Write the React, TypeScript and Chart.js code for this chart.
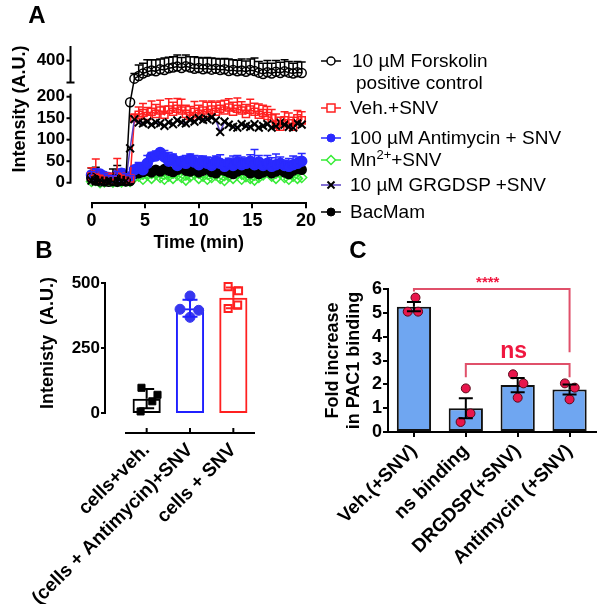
import React, { useEffect, useRef } from "react";
import { Chart, registerables } from "chart.js";

Chart.register(...registerables);

const FF = "'Liberation Sans', Arial, Helvetica, sans-serif";

// ---------------- Panel A data ----------------
const aTimesBase = [0, 0.4, 0.8, 1.2, 1.6, 2.0, 2.4, 2.8, 3.2, 3.6];
const aTimesRise = [
  4.0, 4.4, 4.8, 5.2, 5.6, 6.0, 6.4, 6.8, 7.2, 7.6,
  8.0, 8.4, 8.8, 9.2, 9.6, 10.0, 10.4, 10.8, 11.2, 11.6,
  12.0, 12.4, 12.8, 13.2, 13.6, 14.0, 14.4, 14.8, 15.2, 15.6,
  16.0, 16.4, 16.8, 17.2, 17.6, 18.0, 18.4, 18.8, 19.2, 19.6,
];

const aForskolinBase = [12, 6, 3, 5, 2, 4, 8, 5, 6, 187];
const aForskolinBaseErr = [22, 30, 8, 6, 5, 28, 32, 8, 8, 0];
const aForskolinRise = [
  358, 364, 370, 374, 377, 375, 380, 378, 382, 384,
  386, 383, 387, 384, 381, 383, 380, 382, 379, 381,
  378, 380, 376, 378, 375, 377, 374, 378, 376, 372,
  369, 373, 370, 374, 371, 375, 372, 370, 373, 371,
];
const aForskolinRiseErr = [
  12, 26, 24, 28, 25, 27, 24, 28, 26, 25,
  27, 24, 26, 25, 28, 24, 26, 25, 27, 24,
  26, 25, 28, 24, 26, 27, 25, 26, 30, 26,
  25, 27, 24, 26, 25, 27, 26, 24, 25, 26,
];

const aVehBase = [15, 20, 10, 8, 12, 5, 18, 10, 8, 10];
const aVehBaseErr = [20, 35, 10, 8, 10, 10, 38, 12, 10, 6];
const aVehRise = [
  150, 158, 162, 155, 165, 160, 168, 158, 170, 165,
  172, 168, 160, 155, 165, 160, 168, 162, 170, 165,
  172, 168, 175, 165, 172, 168, 160, 170, 165, 158,
  162, 155, 150, 135, 130, 145, 138, 130, 150, 145,
];
const aVehRiseErr = [
  10, 18, 22, 20, 25, 22, 24, 20, 25, 22,
  24, 26, 20, 22, 24, 20, 22, 25, 20, 22,
  18, 24, 20, 22, 25, 20, 22, 24, 20, 25,
  18, 22, 20, 25, 22, 20, 24, 22, 18, 20,
];

const aAntBase = [18, 22, 20, 15, 12, 10, 18, 22, 15, 12];
const aAntBaseErr = [8, 10, 8, 6, 5, 6, 8, 10, 6, 5];
const aAntRise = [
  30, 35, 30, 45, 60, 62, 70, 60, 50, 55,
  40, 50, 45, 55, 48, 42, 50, 45, 40, 50,
  45, 38, 45, 40, 48, 42, 45, 50, 42, 48,
  40, 45, 38, 42, 45, 40, 38, 42, 45, 50,
];
const aAntRiseErr = [
  8, 12, 15, 18, 10, 12, 8, 15, 20, 12,
  15, 10, 18, 12, 15, 20, 12, 15, 18, 12,
  20, 15, 12, 22, 15, 18, 12, 15, 35, 15,
  12, 18, 20, 25, 15, 12, 18, 20, 15, 18,
];

const aMnBase = [3, 5, 0, 2, 4, 1, 3, 2, 4, 3];
const aMnRise = [
  12, 15, 8, 18, 10, 20, 12, 8, 15, 10,
  18, 12, 6, 14, 20, 10, 15, 8, 12, 18,
  10, 5, 15, 10, 20, 8, 14, 10, 6, 12,
  18, 25, 15, 10, 22, 12, 8, 15, 10, 12,
];

const aGrgBase = [5, 3, 8, 4, 2, 6, 4, 3, 5, 80];
const aGrgRise = [
  148, 140, 138, 142, 135, 140, 138, 132, 140, 136,
  145, 140, 138, 146, 142, 150, 146, 148, 152, 145,
  118, 142, 135, 130, 128, 136, 132, 130, 136, 128,
  132, 136, 128, 132, 140, 135, 130, 128, 138, 135,
];

const aBacBase = [10, 5, 8, 3, 6, 4, 2, 5, 3, 4];
const aBacRise = [
  20, 22, 25, 28, 24, 30, 26, 32, 28, 25,
  30, 34, 28, 26, 30, 24, 28, 32, 25, 22,
  30, 28, 24, 20, 26, 30, 28, 22, 25, 20,
  24, 28, 22, 26, 30, 24, 20, 28, 32, 30,
];

const aTopTicks = [400];
const aTopAxisSpan = [349, 434];
const aLowTicks = [0, 50, 100, 150, 200];
const aLowAxisSpan = [0, 200];

// ---------------- Panel B data ----------------
const bCategories = ["cells+veh.", "(cells + Antimycin)+SNV", "cells + SNV"];
const bIndex = [0, 1, 2];
const bMeans = [55, 403, 443];
const bSD = [37, 33, 40];
const bVehPts = [97, 70, 45, 6];
const bVehJitter = [-0.12, 0.25, 0.13, -0.14];
const bAntPts = [450, 399, 395, 368];
const bAntJitter = [0, -0.23, 0.2, 0];
const bSnvPts = [486, 470, 415, 402];
const bSnvJitter = [-0.12, 0.12, 0.1, -0.12];
const bTicks = [0, 250, 500];

// ---------------- Panel C data ----------------
const cCategories = ["Veh.(+SNV)", "ns binding", "DRGDSP(+SNV)", "Antimycin (+SNV)"];
const cIndex = [0, 1, 2, 3];
const cMeans = [5.26, 1.0, 1.97, 1.78];
const cSEM = [0.19, 0.42, 0.3, 0.21];
const cPts0 = [5.64, 5.05, 5.05];
const cPts1 = [1.83, 0.78, 0.42];
const cPts2 = [2.42, 2.04, 1.44];
const cPts3 = [2.04, 1.86, 1.37];
const cJitter0 = [0.03, -0.12, 0.08];
const cJitter1 = [0, 0.09, -0.1];
const cJitter2 = [-0.09, 0.11, 0];
const cJitter3 = [-0.09, 0.1, 0];
// brackets: [fromIndex, toIndex, topValue, leftFoot, rightFoot]
const cBracketStars = [0, 3, 6.0, 5.9, 3.35];
const cBracketNs = [1, 3, 2.85, 2.3, 2.3];

const RED = "#ff2020";
const BLUE = "#2a2aff";
const GREEN = "#38ec38";
const PURPLE = "#5a40c4";

const zip = (xs: number[], ys: number[]) => xs.map((x, i) => ({ x, y: ys[i] }));
const zeroPad = (s: any) => {
  s.paddingLeft = 0;
  s.paddingRight = 0;
  s.paddingTop = 0;
  s.paddingBottom = 0;
};
const bold = (size: number) => ({ family: FF, size, weight: "bold" as const });

const errorBarPlugin = {
  id: "errbars",
  afterDatasetsDraw(chart: any) {
    const ctx = chart.ctx;
    chart.data.datasets.forEach((ds: any, i: number) => {
      if (!ds.errUp && !ds.errDown) return;
      const meta = chart.getDatasetMeta(i);
      const ys = chart.scales[meta.yAxisID];
      ctx.save();
      ctx.lineWidth = ds.errWidth ?? 1.5;
      const cap = ds.errCap ?? 4;
      meta.data.forEach((el: any, j: number) => {
        const raw = ds.data[j];
        const v = typeof raw === "number" ? raw : raw.y;
        const col = Array.isArray(ds.errColor) ? ds.errColor[j] : ds.errColor;
        ctx.strokeStyle = col;
        const x = el.x;
        const y0 = ys.getPixelForValue(v);
        const draw = (e: number) => {
          if (!e) return;
          const yt = ys.getPixelForValue(v + e);
          ctx.beginPath();
          ctx.moveTo(x, y0);
          ctx.lineTo(x, yt);
          ctx.moveTo(x - cap, yt);
          ctx.lineTo(x + cap, yt);
          ctx.stroke();
        };
        if (ds.errUp) draw(ds.errUp[j]);
        if (ds.errDown) draw(-ds.errDown[j]);
      });
      ctx.restore();
    });
  },
};

function useChart(ref: React.RefObject<HTMLCanvasElement>, make: () => any) {
  useEffect(() => {
    const chart = new Chart(ref.current as HTMLCanvasElement, make());
    return () => chart.destroy();
  }, []);
}

function PanelA() {
  const ref = useRef<HTMLCanvasElement>(null);
  useChart(ref, () => {
    const line = (extra: any) => ({
      type: "line",
      borderWidth: 1.5,
      pointBorderWidth: 1.5,
      pointRadius: 4.5,
      tension: 0,
      clip: false,
      yAxisID: "yLow",
      ...extra,
    });
    const axisPlugin = {
      id: "aAxes",
      beforeDatasetsDraw(chart: any) {
        const ctx = chart.ctx;
        const m0 = chart.getDatasetMeta(0);
        const m1 = chart.getDatasetMeta(1);
        const p0 = m0.data[m0.data.length - 1];
        const p1 = m1.data[0];
        ctx.save();
        ctx.strokeStyle = "#000";
        ctx.lineWidth = 1.5;
        ctx.beginPath();
        ctx.moveTo(p0.x, p0.y);
        ctx.lineTo(p1.x, p1.y);
        ctx.stroke();
        ctx.restore();
      },
      afterDraw(chart: any) {
        const { ctx, chartArea } = chart;
        const yt = chart.scales.yTop;
        const yl = chart.scales.yLow;
        const ax = chartArea.left - 21;
        ctx.save();
        ctx.strokeStyle = "#000";
        ctx.lineWidth = 2;
        const seg = (x1: number, y1: number, x2: number, y2: number) => {
          ctx.beginPath();
          ctx.moveTo(x1, y1);
          ctx.lineTo(x2, y2);
          ctx.stroke();
        };
        seg(ax, yt.getPixelForValue(aTopAxisSpan[0]), ax, yt.getPixelForValue(aTopAxisSpan[1]));
        aTopTicks.forEach((v) => seg(ax - 4, yt.getPixelForValue(v), ax, yt.getPixelForValue(v)));
        const yc = yt.getPixelForValue(aTopAxisSpan[0]);
        seg(ax - 4, yc, ax + 4, yc);
        seg(ax, yl.getPixelForValue(aLowAxisSpan[0]) + 1, ax, yl.getPixelForValue(aLowAxisSpan[1]) - 3);
        aLowTicks.forEach((v) => seg(ax - 4, yl.getPixelForValue(v), ax, yl.getPixelForValue(v)));
        ctx.restore();
      },
    };
    return {
      type: "line",
      data: {
        datasets: [
          line({
            data: zip(aTimesBase, aForskolinBase),
            borderColor: "#000",
            pointStyle: "circle",
            pointBorderColor: "#000",
            pointBackgroundColor: "rgba(255,255,255,0)",
            errUp: aForskolinBaseErr,
            errColor: "#000",
            order: 1,
          }),
          line({
            data: zip(aTimesRise, aForskolinRise),
            yAxisID: "yTop",
            borderColor: "#000",
            pointStyle: "circle",
            pointBorderColor: "#000",
            pointBackgroundColor: "rgba(255,255,255,0)",
            errUp: aForskolinRiseErr,
            errColor: "#000",
            order: 1,
          }),
          line({
            data: zip(aTimesBase.concat(aTimesRise), aVehBase.concat(aVehRise)),
            borderColor: RED,
            pointStyle: "rect",
            pointRadius: 5,
            pointBorderColor: RED,
            pointBackgroundColor: "rgba(255,255,255,0)",
            errUp: aVehBaseErr.concat(aVehRiseErr),
            errColor: RED,
            order: 3,
          }),
          line({
            data: zip(aTimesBase.concat(aTimesRise), aAntBase.concat(aAntRise)),
            borderColor: BLUE,
            pointStyle: "circle",
            pointRadius: 5,
            pointBorderColor: BLUE,
            pointBackgroundColor: BLUE,
            errUp: aAntBaseErr.concat(aAntRiseErr),
            errColor: BLUE,
            order: 4,
          }),
          line({
            data: zip(aTimesBase.concat(aTimesRise), aMnBase.concat(aMnRise)),
            borderColor: GREEN,
            pointStyle: "rectRot",
            pointRadius: 5,
            pointBorderColor: GREEN,
            pointBackgroundColor: "rgba(255,255,255,0)",
            order: 6,
          }),
          line({
            data: zip(aTimesBase.concat(aTimesRise), aGrgBase.concat(aGrgRise)),
            borderColor: PURPLE,
            pointStyle: "crossRot",
            pointRadius: 5.5,
            pointBorderWidth: 2,
            pointBorderColor: "#000",
            order: 2,
          }),
          line({
            data: zip(aTimesBase.concat(aTimesRise), aBacBase.concat(aBacRise)),
            borderColor: "#000",
            pointStyle: "circle",
            pointRadius: 4.5,
            pointBorderColor: "#000",
            pointBackgroundColor: "#000",
            order: 5,
          }),
        ],
      },
      options: {
        responsive: false,
        animation: false,
        devicePixelRatio: 1,
        events: [],
        layout: { padding: { left: 0, top: 46, right: 14, bottom: 0 } },
        plugins: { legend: { display: false }, tooltip: { enabled: false } },
        scales: {
          x: {
            type: "linear",
            min: 0,
            max: 20,
            ticks: { stepSize: 5, font: bold(18), color: "#000", padding: 2, maxRotation: 0 },
            grid: { display: true, drawOnChartArea: false, drawTicks: true, tickLength: 5, color: "#000", lineWidth: 2 },
            border: { display: true, color: "#000", width: 2 },
            title: { display: true, text: "Time (min)", font: bold(18), color: "#000", padding: { top: 0, bottom: 6 } },
            afterFit: (s: any) => {
              s.height = 56.7;
              zeroPad(s);
            },
          },
          yTop: {
            type: "linear",
            position: "left",
            stack: "a",
            stackWeight: 50.7,
            weight: 1,
            min: 316,
            max: 434,
            afterBuildTicks: (s: any) => {
              s.ticks = aTopTicks.map((v) => ({ value: v }));
            },
            ticks: { font: bold(17), color: "#000", padding: 26.5, autoSkip: false },
            grid: { display: false, drawTicks: false },
            border: { display: false },
            afterFit: (s: any) => {
              s.width = 91.5;
              zeroPad(s);
            },
          },
          yLow: {
            type: "linear",
            position: "left",
            stack: "a",
            stackWeight: 106.6,
            weight: 0,
            min: -47.9,
            max: 200,
            afterBuildTicks: (s: any) => {
              s.ticks = aLowTicks.map((v) => ({ value: v }));
            },
            ticks: { font: bold(17), color: "#000", padding: 26.5, autoSkip: false },
            grid: { display: false, drawTicks: false },
            border: { display: false },
            afterFit: (s: any) => {
              s.width = 91.5;
              zeroPad(s);
            },
          },
        },
      },
      plugins: [axisPlugin, errorBarPlugin],
    };
  });
  return (
    <canvas ref={ref} width={320} height={260} style={{ position: "absolute", left: 0, top: 0, width: 320, height: 260 }} />
  );
}

function PanelB() {
  const ref = useRef<HTMLCanvasElement>(null);
  useChart(ref, () => {
    const bColors = ["#000", "#2020ff", "#ff2020"];
    const axisPlugin = {
      id: "bAxes",
      afterDraw(chart: any) {
        const { ctx, chartArea } = chart;
        const y = chart.scales.y;
        const x = chart.scales.x;
        const ax = chartArea.left - 20;
        ctx.save();
        ctx.strokeStyle = "#000";
        ctx.lineWidth = 2;
        const seg = (x1: number, y1: number, x2: number, y2: number) => {
          ctx.beginPath();
          ctx.moveTo(x1, y1);
          ctx.lineTo(x2, y2);
          ctx.stroke();
        };
        seg(ax, y.getPixelForValue(bTicks[0]) + 1, ax, y.getPixelForValue(bTicks[bTicks.length - 1]) - 1);
        bTicks.forEach((v) => seg(ax - 4, y.getPixelForValue(v), ax, y.getPixelForValue(v)));
        seg(chartArea.left, chartArea.bottom, chartArea.right, chartArea.bottom);
        bIndex.forEach((i) => {
          const px = x.getPixelForValue(i);
          seg(px, chartArea.bottom, px, chartArea.bottom - 5);
        });
        ctx.restore();
      },
    };
    const pts = (vals: number[], jit: number[], idx: number, extra: any) => ({
      type: "scatter",
      data: zip(jit.map((j) => idx + j), vals),
      pointRadius: 5,
      order: 1,
      clip: false,
      ...extra,
    });
    return {
      type: "bar",
      data: {
        datasets: [
          {
            type: "bar",
            data: zip(bIndex, bMeans),
            backgroundColor: "rgba(255,255,255,0)",
            borderColor: bColors,
            borderWidth: 2,
            borderSkipped: false,
            grouped: false,
            barPercentage: 0.65,
            categoryPercentage: 1,
            errUp: bSD,
            errDown: bSD,
            errColor: bColors,
            errCap: 7.5,
            errWidth: 2,
            order: 3,
          },
          pts(bVehPts, bVehJitter, 0, { pointStyle: "rect", backgroundColor: "#000", borderColor: "#000" }),
          pts(bAntPts, bAntJitter, 1, { pointStyle: "circle", backgroundColor: "#3636f0", borderColor: "#3636f0" }),
          pts(bSnvPts, bSnvJitter, 2, {
            pointStyle: "rect",
            backgroundColor: "rgba(255,255,255,0)",
            borderColor: "#ff2020",
            borderWidth: 2,
          }),
        ],
      },
      options: {
        responsive: false,
        animation: false,
        devicePixelRatio: 1,
        events: [],
        layout: { padding: { left: 0, top: 23, right: 45, bottom: 0 } },
        plugins: { legend: { display: false }, tooltip: { enabled: false } },
        scales: {
          x: {
            type: "linear",
            min: -0.5,
            max: 2.5,
            offset: false,
            afterBuildTicks: (s: any) => {
              s.ticks = bIndex.map((v) => ({ value: v }));
            },
            ticks: {
              font: bold(19),
              color: "#000",
              padding: 6,
              minRotation: 45,
              maxRotation: 45,
              autoSkip: false,
              callback: (v: any) => bCategories[Math.round(Number(v))],
            },
            grid: { display: false, drawTicks: false, offset: false },
            border: { display: false },
            afterFit: (s: any) => {
              s.height = 171;
              zeroPad(s);
            },
          },
          y: {
            type: "linear",
            min: -76.9,
            max: 500,
            afterBuildTicks: (s: any) => {
              s.ticks = bTicks.map((v) => ({ value: v }));
            },
            ticks: { font: bold(17), color: "#000", padding: 25, autoSkip: false },
            grid: { display: false, drawTicks: false },
            border: { display: false },
            afterFit: (s: any) => {
              s.width = 125;
              zeroPad(s);
            },
          },
        },
      },
      plugins: [axisPlugin, errorBarPlugin],
    };
  });
  return (
    <canvas ref={ref} width={300} height={344} style={{ position: "absolute", left: 0, top: 260, width: 300, height: 344 }} />
  );
}

function PanelC() {
  const ref = useRef<HTMLCanvasElement>(null);
  useChart(ref, () => {
    const bracketPlugin = {
      id: "cBrackets",
      afterDraw(chart: any) {
        const { ctx } = chart;
        const x = chart.scales.x;
        const y = chart.scales.y;
        ctx.save();
        ctx.strokeStyle = "#e0506a";
        ctx.lineWidth = 2;
        const bracket = (b: number[], label: string, size: number, gap: number) => {
          const x1 = x.getPixelForValue(b[0]);
          const x2 = x.getPixelForValue(b[1]);
          const yt = y.getPixelForValue(b[2]);
          ctx.beginPath();
          ctx.moveTo(x1, y.getPixelForValue(b[3]));
          ctx.lineTo(x1, yt);
          ctx.lineTo(x2, yt);
          ctx.lineTo(x2, y.getPixelForValue(b[4]));
          ctx.stroke();
          ctx.fillStyle = "#f0173f";
          ctx.font = `bold ${size}px ${FF}`;
          ctx.textAlign = "center";
          ctx.textBaseline = "middle";
          ctx.fillText(label, (x1 + x2) / 2 - 4, yt - gap);
        };
        bracket(cBracketStars, "****", 15, 6);
        bracket(cBracketNs, "ns", 23, 12);
        ctx.restore();
      },
    };
    const pts = (vals: number[], jit: number[], idx: number) => ({
      type: "scatter",
      data: zip(jit.map((j) => idx + j), vals),
      pointRadius: 4.5,
      pointStyle: "circle",
      backgroundColor: "#e8164c",
      borderColor: "#5a0818",
      borderWidth: 1,
      order: 1,
      clip: false,
    });
    return {
      type: "bar",
      data: {
        datasets: [
          {
            type: "bar",
            data: zip(cIndex, cMeans),
            backgroundColor: "#6fa6f1",
            borderColor: "#111",
            borderWidth: 2,
            borderSkipped: false,
            grouped: false,
            barPercentage: 0.66,
            categoryPercentage: 1,
            errUp: cSEM,
            errDown: cSEM,
            errColor: "#000",
            errCap: 7,
            errWidth: 2,
            order: 3,
          },
          pts(cPts0, cJitter0, 0),
          pts(cPts1, cJitter1, 1),
          pts(cPts2, cJitter2, 2),
          pts(cPts3, cJitter3, 3),
        ],
      },
      options: {
        responsive: false,
        animation: false,
        devicePixelRatio: 1,
        events: [],
        layout: { padding: { left: 0, top: 29, right: 0, bottom: 0 } },
        plugins: { legend: { display: false }, tooltip: { enabled: false } },
        scales: {
          x: {
            type: "linear",
            min: -0.5,
            max: 3.5,
            offset: false,
            afterBuildTicks: (s: any) => {
              s.ticks = cIndex.map((v) => ({ value: v }));
            },
            ticks: {
              font: bold(19),
              color: "#000",
              padding: 3,
              minRotation: 45,
              maxRotation: 45,
              autoSkip: false,
              callback: (v: any) => cCategories[Math.round(Number(v))],
            },
            grid: { display: true, drawOnChartArea: false, drawTicks: true, offset: false, tickLength: 5, color: "#000", lineWidth: 2 },
            border: { display: true, color: "#000", width: 2 },
            afterFit: (s: any) => {
              s.height = 172;
              zeroPad(s);
            },
          },
          y: {
            type: "linear",
            min: 0,
            max: 6,
            ticks: { stepSize: 1, font: bold(18), color: "#000", padding: 1, autoSkip: false },
            grid: { display: true, drawOnChartArea: false, drawTicks: true, tickLength: 5, color: "#000", lineWidth: 2 },
            border: { display: true, color: "#000", width: 2 },
            title: {
              display: true,
              text: ["Fold increase", "in PAC1 binding"],
              font: { family: FF, size: 18, weight: "bold", lineHeight: 1.15 },
              color: "#000",
              padding: { top: 22.6, bottom: 0 },
            },
            afterFit: (s: any) => {
              s.width = 88;
              zeroPad(s);
            },
          },
        },
      },
      plugins: [errorBarPlugin, bracketPlugin],
    };
  });
  return (
    <canvas ref={ref} width={301} height={344} style={{ position: "absolute", left: 300, top: 260, width: 301, height: 344 }} />
  );
}

function Marker({ kind, color, lineColor }: { kind: string; color: string; lineColor: string }) {
  let m: React.ReactNode = null;
  if (kind === "circleOpen") m = <circle cx={12} cy={7} r={4} fill="#fff" stroke={color} strokeWidth={1.5} />;
  if (kind === "circle") m = <circle cx={12} cy={7} r={4} fill={color} stroke={color} strokeWidth={1} />;
  if (kind === "square") m = <rect x={8} y={3} width={8} height={8} fill="#fff" stroke={color} strokeWidth={1.5} />;
  if (kind === "diamond") m = <polygon points="12,2.5 16.5,7 12,11.5 7.5,7" fill="#fff" stroke={color} strokeWidth={1.5} />;
  if (kind === "cross")
    m = (
      <g stroke={color} strokeWidth={2}>
        <line x1={8.5} y1={3.5} x2={15.5} y2={10.5} />
        <line x1={15.5} y1={3.5} x2={8.5} y2={10.5} />
      </g>
    );
  return (
    <svg width={24} height={14} style={{ display: "block" }}>
      <line x1={2} y1={7} x2={22} y2={7} stroke={lineColor} strokeWidth={1.5} />
      {m}
    </svg>
  );
}

const legendRows = [
  { y: 60.7, kind: "circleOpen", color: "#000", lineColor: "#000", text: "10 µM Forskolin" },
  { y: 108, kind: "square", color: RED, lineColor: RED, text: "Veh.+SNV" },
  { y: 138, kind: "circle", color: BLUE, lineColor: BLUE, text: "100 µM Antimycin + SNV" },
  { y: 160, kind: "diamond", color: GREEN, lineColor: GREEN, text: "MN" },
  { y: 185, kind: "cross", color: "#000", lineColor: PURPLE, text: "10 µM GRGDSP +SNV" },
  { y: 212, kind: "circle", color: "#000", lineColor: "#000", text: "BacMam" },
];

function Legend() {
  const textStyle: React.CSSProperties = {
    position: "absolute",
    left: 350,
    height: 22,
    lineHeight: "22px",
    fontFamily: FF,
    fontSize: 19,
    color: "#000",
    whiteSpace: "nowrap",
  };
  return (
    <>
      {legendRows.map((r, i) => (
        <React.Fragment key={i}>
          <div style={{ position: "absolute", left: 319, top: r.y - 7 }}>
            <Marker kind={r.kind} color={r.color} lineColor={r.lineColor} />
          </div>
          <div style={{ ...textStyle, top: r.y - 11, left: i === 0 ? 352 : 350 }}>
            {r.text === "MN" ? (
              <>
                Mn<sup style={{ fontSize: 13, verticalAlign: "7px", lineHeight: 0 }}>2+</sup>+SNV
              </>
            ) : (
              r.text
            )}
          </div>
        </React.Fragment>
      ))}
      <div style={{ ...textStyle, top: 83 - 11, left: 356 }}>positive control</div>
    </>
  );
}

function Label({ x, y, text, size, rotate }: { x: number; y: number; text: string; size: number; rotate?: boolean }) {
  return (
    <div
      style={{
        position: "absolute",
        left: x,
        top: y,
        transform: `translate(-50%, -50%)${rotate ? " rotate(-90deg)" : ""}`,
        fontFamily: FF,
        fontWeight: "bold",
        fontSize: size,
        color: "#000",
        whiteSpace: "pre",
        lineHeight: 1,
      }}
    >
      {text}
    </div>
  );
}

export default function App() {
  return (
    <div
      style={{
        position: "absolute",
        left: 0,
        top: 0,
        width: 597,
        height: 604,
        overflow: "hidden",
        background: "#fff",
      }}
    >
      <PanelA />
      <PanelB />
      <PanelC />
      <Legend />
      <Label x={37} y={15} text="A" size={24} />
      <Label x={44} y={250} text="B" size={24} />
      <Label x={358} y={250} text="C" size={24} />
      <Label x={19} y={109} text="Intensity (A.U.)" size={18} rotate />
      <Label x={47} y={343} text="Intenisty  (A.U.)" size={18} rotate />
    </div>
  );
}
